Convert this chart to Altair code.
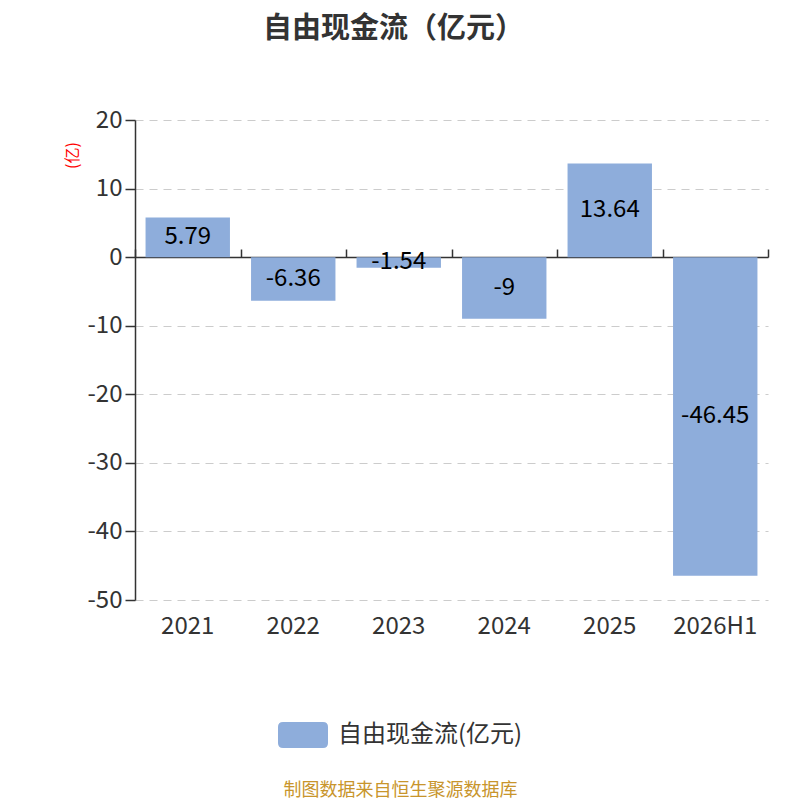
import altair as alt
import pandas as pd

years = ["2021", "2022", "2023", "2024", "2025", "2026H1"]
values = [5.79, -6.36, -1.54, -9, 13.64, -46.45]
series_name = "自由现金流(亿元)"
labels = ["5.79", "-6.36", "-1.54", "-9", "13.64", "-46.45"]

df = pd.DataFrame({"year": years, "value": values, "label": labels, "series": series_name})

FONT = "Noto Sans CJK SC"
BAR = "#8eaddb"

legend_path = ("M-0.8,-0.52 H0.8 Q1,-0.52 1,-0.32 V0.32 Q1,0.52 0.8,0.52 "
               "H-0.8 Q-1,0.52 -1,0.32 V-0.32 Q-1,-0.52 -0.8,-0.52 Z")

x_labels_axis = alt.Axis(
    domain=False, ticks=False, grid=False, labelAngle=0,
    labelFontSize=24, labelColor="#333333", labelFont=FONT, labelPadding=14,
    title="制图数据来自恒生聚源数据库", titleFont=FONT, titleFontSize=18,
    titleFontWeight="normal", titleColor="#c8952c",
    titleX=265, titleY=190, titleBaseline="middle", titleAlign="center",
)

x_zero_axis = alt.Axis(
    domain=True, domainColor="#333333", domainWidth=1.5,
    ticks=True, tickBand="extent", tickSize=8, tickColor="#333333", tickWidth=1.5,
    labels=False, grid=False, title=None, offset=-137,
)

y_axis = alt.Axis(
    values=[20, 10, 0, -10, -20, -30, -40, -50],
    labelExpr="replace(datum.label, '\u2212', '-')",
    labelFontSize=24, labelColor="#333333", labelFont=FONT, labelPadding=3,
    domain=True, domainColor="#333333", domainWidth=1.5,
    ticks=True, tickSize=10, tickColor="#333333", tickWidth=1.5,
    grid=True, gridColor="#cccccc", gridDash=[8, 6], gridWidth=1.2,
    title="(亿)", titleColor="#ff0000", titleFontSize=16, titleFont=FONT,
    titleFontWeight="normal", titleAngle=-90, titleX=-63, titleY=35,
    titleAlign="center", titleBaseline="middle",
)

xs = alt.Scale(paddingInner=0, paddingOuter=0)
ys = alt.Scale(domain=[-50, 20], nice=False, zero=False)

bars = alt.Chart(df).mark_bar(color=BAR, width=alt.RelativeBandSize(0.8)).encode(
    x=alt.X("year:N", sort=years, scale=xs, axis=x_labels_axis),
    y=alt.Y("value:Q", scale=ys, axis=y_axis),
    color=alt.Color(
        "series:N",
        scale=alt.Scale(range=[BAR]),
        legend=alt.Legend(
            title=None, orient="none", legendX=143, legendY=590,
            symbolType=legend_path, symbolSize=2500, symbolStrokeWidth=0,
            symbolOpacity=1, labelFontSize=24, labelColor="#333333",
            labelFont=FONT, labelOffset=10, labelLimit=400,
        ),
    ),
)

text = alt.Chart(df).transform_calculate(
    mid="datum.value / 2"
).mark_text(fontSize=24, color="#000000", font=FONT, baseline="middle").encode(
    x=alt.X("year:N", sort=years, scale=xs, axis=x_zero_axis),
    y=alt.Y("mid:Q", scale=ys),
    text="label:N",
)

chart = alt.layer(bars, text).resolve_axis(x="independent").properties(
    width=633,
    height=480,
    autosize=alt.AutoSizeParams(type="none"),
    padding={"left": 127, "top": 112, "right": 20, "bottom": 200},
    title=alt.TitleParams(
        "自由现金流（亿元）", fontSize=29, fontWeight="bold", color="#333333",
        font=FONT, anchor="middle", dx=-58, offset=64,
    ),
).configure_view(stroke=None)

chart.save("out.html", embed_options={"renderer": "svg", "actions": False})
